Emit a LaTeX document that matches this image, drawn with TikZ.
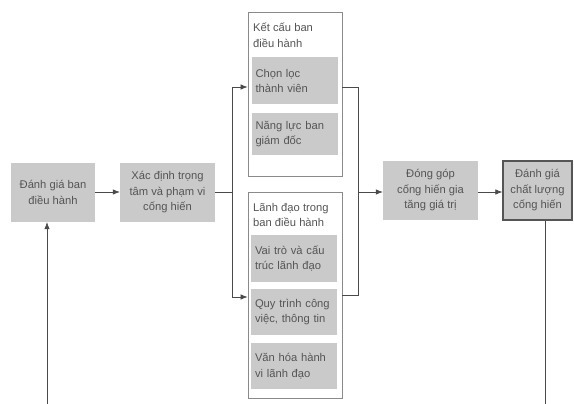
\documentclass[tikz,border=0pt]{standalone}
\usepackage{fontspec}
\setmainfont{Liberation Sans}
\usetikzlibrary{arrows.meta}
\definecolor{boxfill}{HTML}{CACACA}
\definecolor{txt}{HTML}{555555}
\definecolor{outerline}{HTML}{8A8A8A}
\definecolor{wire}{HTML}{4A4A4A}
\begin{document}
\begin{tikzpicture}[x=1pt,y=-1pt,
  every node/.style={font=\fontsize{11.2}{15.5}\selectfont, text=txt, inner sep=0pt},
  mainbox/.style={fill=boxfill, minimum width=#1, minimum height=59pt, align=center},
  innerbox/.style={fill=boxfill, minimum width=86pt, minimum height=47pt, text width=78pt, align=left},
  outerbox/.style={draw=outerline, line width=0.8pt, fill=white, minimum width=94pt, minimum height=#1},
  titletext/.style={anchor=north west, align=left},
  wireline/.style={draw=wire, line width=0.7pt},
  arr/.style={wireline, -{Latex[length=7pt,width=5.5pt]}}
]
\useasboundingbox (0,0) rectangle (574,404);
\fill[white] (0,0) rectangle (574,404);

% main boxes
\node[mainbox=84pt] (b1) at (53,192.5) {Đánh giá ban\\điều hành};
\node[mainbox=95pt] (b2) at (167.5,192.5) {Xác định trọng\\tâm và phạm vi\\cống hiến};
\node[mainbox=95pt] (b3) at (430.5,190.5) {Đóng góp\\cống hiến gia\\tăng giá trị};
\node[mainbox=69pt, draw=txt, line width=1.3pt] (b4) at (537.5,190.5) {Đánh giá\\chất lượng\\cống hiến};

% outer group 1
\node[outerbox=164pt] (o1) at (295,94) {};
\node[titletext] (t1) at (253,23) {Kết cấu ban\\điều hành};
\node[innerbox] (c1) at (294.5,81) {Chọn lọc\\thành viên};
\node[innerbox, minimum height=42pt] (c2) at (294.5,134) {Năng lực ban\\giám đốc};

% outer group 2
\node[outerbox=206pt] (o2) at (295,295) {};
\node[titletext] (t2) at (253,203) {Lãnh đạo trong\\ban điều hành};
\node[innerbox] (c3) at (294,258.5) {Vai trò và cấu\\trúc lãnh đạo};
\node[innerbox, minimum height=46pt] (c4) at (294,312) {Quy trình công\\việc, thông tin};
\node[innerbox, minimum height=46pt] (c5) at (294,366) {Văn hóa hành\\vi lãnh đạo};

% junction coordinates
\coordinate (jl) at (232,192);
\coordinate (jr) at (358,192);
\coordinate (fbl) at (47,404);
\coordinate (fbr) at (545,404);

% connectors
\draw[arr] (b1.east |- 0,192) -- (b2.west |- 0,192);
\draw[wireline] (b2.east |- jl) -- (jl);
\draw[arr] (jl) -- (232,87) -- (o1.west |- 0,87);
\draw[arr] (jl) -- (232,297) -- (o2.west |- 0,297);
\draw[wireline] (o1.east |- 0,87) -- (358,87) -- (358,295) -- (o2.east |- 0,295);
\draw[arr] (jr) -- (b3.west |- jr);
\draw[arr] (b3.east |- jr) -- (b4.west |- jr);
\draw[wireline] (b4.south -| fbr) -- (fbr);
\draw[arr] (fbl) -- (b1.south -| fbl);
\end{tikzpicture}
\end{document}
